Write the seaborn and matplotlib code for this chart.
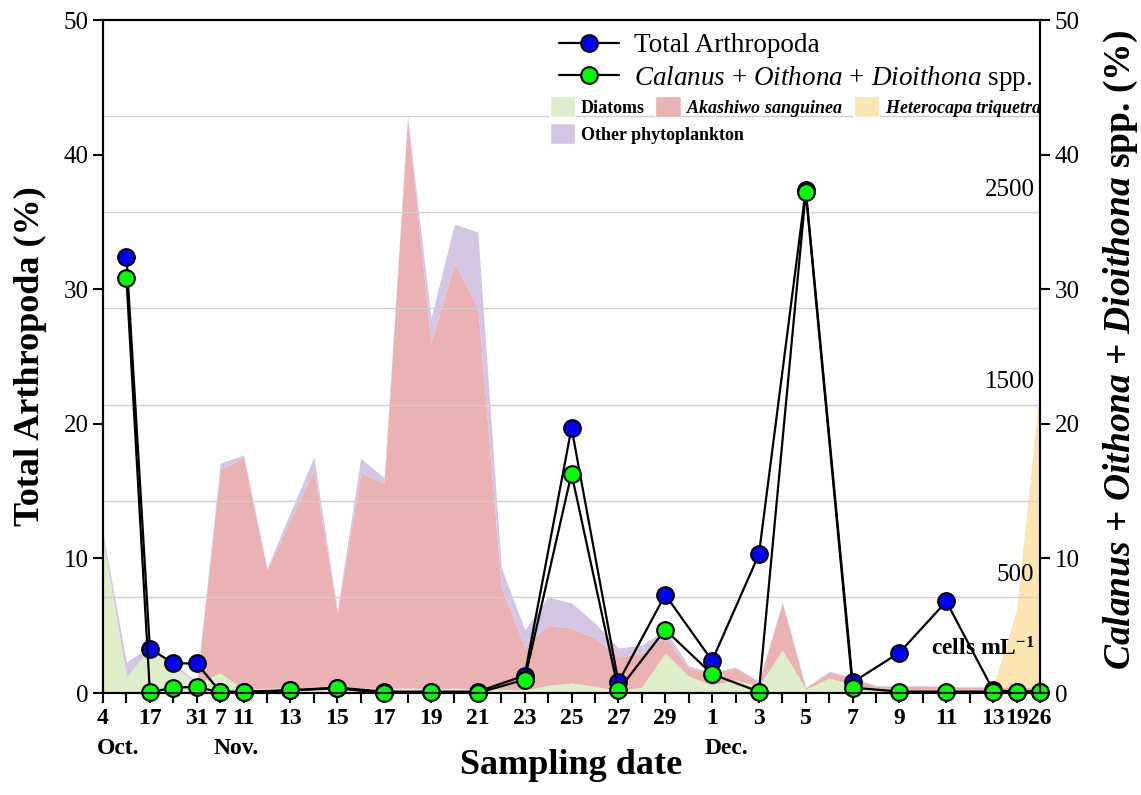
import numpy as np
import pandas as pd
import matplotlib
matplotlib.use('Agg')
import matplotlib.pyplot as plt
from matplotlib.lines import Line2D
from matplotlib.patches import Patch
import seaborn as sns

# x axis = sampling slots (0 = 4 Oct ... 40 = 26 Dec)
slots = list(range(41))
tick_slots = [0, 2, 4, 5, 6, 8, 10, 12, 14, 16, 18, 20, 22, 24, 26, 28, 30, 32, 34, 36, 38, 39, 40]
tick_labels = ['4', '17', '31', '7', '11', '13', '15', '17', '19', '21', '23', '25',
               '27', '29', '1', '3', '5', '7', '9', '11', '13', '19', '26']
months = ['Oct.', 'Nov.', 'Dec.']

# zooplankton (%)
zoo_slots = [1, 2, 3, 4, 5, 6, 8, 10, 12, 14, 16, 18, 20, 22, 24, 26, 28, 30, 32, 34, 36, 38, 39, 40]
total_arthropoda = [32.4, 3.3, 2.2, 2.2, 0.1, 0.1, 0.2, 0.4, 0.1, 0.1, 0.1, 1.3, 19.7, 0.8,
                    7.3, 2.4, 10.3, 37.4, 0.8, 3.0, 6.8, 0.2, 0.1, 0.1]
calanus_group = [30.8, 0.05, 0.4, 0.45, 0.05, 0.05, 0.2, 0.35, 0.0, 0.05, 0.0, 1.0, 16.3, 0.2,
                 4.7, 1.4, 0.1, 37.2, 0.4, 0.1, 0.1, 0.1, 0.1, 0.1]

# phytoplankton (cells mL-1), one value per slot
diatoms = [800, 83, 235, 140, 50, 104, 20, 25, 25, 25, 20, 25, 25, 25, 25, 25, 20, 20, 15, 40,
           52, 35, 10, 31, 208, 88, 42, 68, 36, 224, 20, 78, 42, 16, 10, 10, 10, 10, 10, 10, 10]
akashiwo = [0, 0, 0, 0, 0, 1056, 1207, 615, 875, 1135, 396, 1119, 1067, 2965, 1800, 2211, 1987,
            531, 225, 314, 286, 251, 177, 177, 83, 42, 62, 62, 21, 244, 6, 31, 36, 20, 26, 26,
            21, 21, 21, 20, 20]
heterocapa = [0] * 38 + [0, 400, 1570]
other_phyto = [30, 78, 10, 15, 10, 36, 10, 10, 40, 67, 15, 78, 26, 10, 125, 203, 390, 104, 88,
               146, 130, 78, 47, 42, 37, 11, 5, 5, 5, 5, 3, 5, 3, 3, 3, 3, 3, 3, 3, 3, 3]
cell_grid = [500, 1000, 1500, 2000, 2500, 3000]
cell_labels = [500, 1500, 2500]

sns.set_theme(style='ticks')
plt.rcParams['font.family'] = ['Liberation Serif', 'DejaVu Serif']
plt.rcParams.update({
    'axes.edgecolor': 'black', 'xtick.color': 'black', 'ytick.color': 'black',
    'text.color': 'black', 'axes.labelcolor': 'black',
    'mathtext.fontset': 'custom',
    'mathtext.rm': 'Liberation Serif',
    'mathtext.it': 'Liberation Serif:italic',
    'mathtext.bf': 'Liberation Serif:bold',
    'mathtext.bfit': 'Liberation Serif:italic:bold',
})

c_diat, c_aka, c_het, c_oth = '#dcefc9', '#eab2b2', '#fce5b0', '#d5c5e5'

fig = plt.figure(figsize=(11.41, 7.95), dpi=100)
rect = [0.0903, 0.1283, 0.8212, 0.8465]

# background: phytoplankton stack on its own (hidden) cell axis
ax_cells = fig.add_axes(rect)
ax_cells.stackplot(slots, diatoms, akashiwo, heterocapa, other_phyto,
                   colors=[c_diat, c_aka, c_het, c_oth], linewidth=0, zorder=1)
ax_cells.set_xlim(0, 40)
ax_cells.set_ylim(0, 3500)
for v in cell_grid:
    ax_cells.axhline(v, color='#cfcfcf', lw=1, zorder=2)
for v in cell_labels:
    ax_cells.annotate(str(v), xy=(1, v), xycoords=('axes fraction', 'data'),
                      xytext=(-4, 8), textcoords='offset points',
                      ha='right', va='bottom', fontsize=18)
ax_cells.text(0.994, 0.066, r'cells mL$^{\mathbf{-1}}$', transform=ax_cells.transAxes,
              ha='right', va='center', fontsize=17, fontweight='bold')
ax_cells.axis('off')

# foreground: zooplankton lines
ax = fig.add_axes(rect, zorder=2)
ax.patch.set_visible(False)
sns.lineplot(x=zoo_slots, y=total_arthropoda, ax=ax, color='black', lw=1.6,
             marker='o', markersize=12, markerfacecolor='#0000ff',
             markeredgecolor='black', markeredgewidth=1.5, clip_on=False, zorder=3)
sns.lineplot(x=zoo_slots, y=calanus_group, ax=ax, color='black', lw=1.6,
             marker='o', markersize=12, markerfacecolor='#00ff00',
             markeredgecolor='black', markeredgewidth=1.5, clip_on=False, zorder=4)

ax.set_xlim(0, 40)
ax.set_ylim(0, 50)
ax.set_yticks(range(0, 51, 10))
ax.set_xticks(slots)
lab = [''] * len(slots)
for s, t in zip(tick_slots, tick_labels):
    lab[s] = t
ax.set_xticklabels(lab, fontweight='bold', fontsize=17)
ax.tick_params(axis='x', length=7, width=1.5, pad=4)
ax.tick_params(axis='y', length=7, width=1.5, labelsize=18)
for sp in ax.spines.values():
    sp.set_linewidth(1.5)
    sp.set_visible(True)

for m, s in zip(months, [0.64, 5.7, 26.6]):
    ax.text(s, -0.082, m, transform=ax.get_xaxis_transform(), ha='center', va='center',
            fontsize=17, fontweight='bold')

ax.set_xlabel('Sampling date', fontsize=26, fontweight='bold')
ax.xaxis.set_label_coords(0.5, -0.083)
ax.set_ylabel('Total Arthropoda (%)', fontsize=26, fontweight='bold')
ax.yaxis.set_label_coords(-0.060, 0.5)

ax_r = ax.twinx()
ax_r.set_ylim(0, 50)
ax_r.set_yticks(range(0, 51, 10))
ax_r.tick_params(axis='y', length=7, width=1.5, labelsize=18)
for sp in ax_r.spines.values():
    sp.set_linewidth(1.5)
ax_r.set_ylabel(r'$\mathbfit{Calanus}$ + $\mathbfit{Oithona}$ + $\mathbfit{Dioithona}$ spp. (%)',
                fontsize=27, fontweight='bold')
ax_r.yaxis.set_label_coords(1.066, 0.51)

# legends
line_handles = [
    Line2D([], [], color='black', lw=1.6, marker='o', ms=12, mfc='#0000ff', mec='black', mew=1.5),
    Line2D([], [], color='black', lw=1.6, marker='o', ms=12, mfc='#00ff00', mec='black', mew=1.5),
]
leg1 = ax.legend(line_handles,
                 ['Total Arthropoda',
                  r'$\mathit{Calanus}$ + $\mathit{Oithona}$ + $\mathit{Dioithona}$ spp.'],
                 loc='upper left', bbox_to_anchor=(0.490, 0.958), bbox_transform=fig.transFigure,
                 frameon=False, fontsize=19.5, handlelength=2.2, handletextpad=0.55,
                 labelspacing=0.2, borderaxespad=0, borderpad=0)
ax.add_artist(leg1)

leg2 = ax.legend([Patch(facecolor=c_diat), Patch(facecolor=c_aka), Patch(facecolor=c_het)],
                 ['Diatoms', r'$\mathbfit{Akashiwo\ sanguinea}$', r'$\mathbfit{Heterocapa\ triquetra}$'],
                 loc='upper left', bbox_to_anchor=(0.482, 0.879), bbox_transform=fig.transFigure,
                 ncol=3, frameon=False, prop={'weight': 'bold', 'size': 13},
                 handlelength=1.4, handleheight=1.4, handletextpad=0.3, columnspacing=0.6,
                 borderaxespad=0, borderpad=0)
ax.add_artist(leg2)

ax.legend([Patch(facecolor=c_oth)], ['Other phytoplankton'],
          loc='upper left', bbox_to_anchor=(0.482, 0.845), bbox_transform=fig.transFigure,
          frameon=False, prop={'weight': 'bold', 'size': 13},
          handlelength=1.4, handleheight=1.4, handletextpad=0.3,
          borderaxespad=0, borderpad=0)

fig.savefig('out.png', dpi=100)
